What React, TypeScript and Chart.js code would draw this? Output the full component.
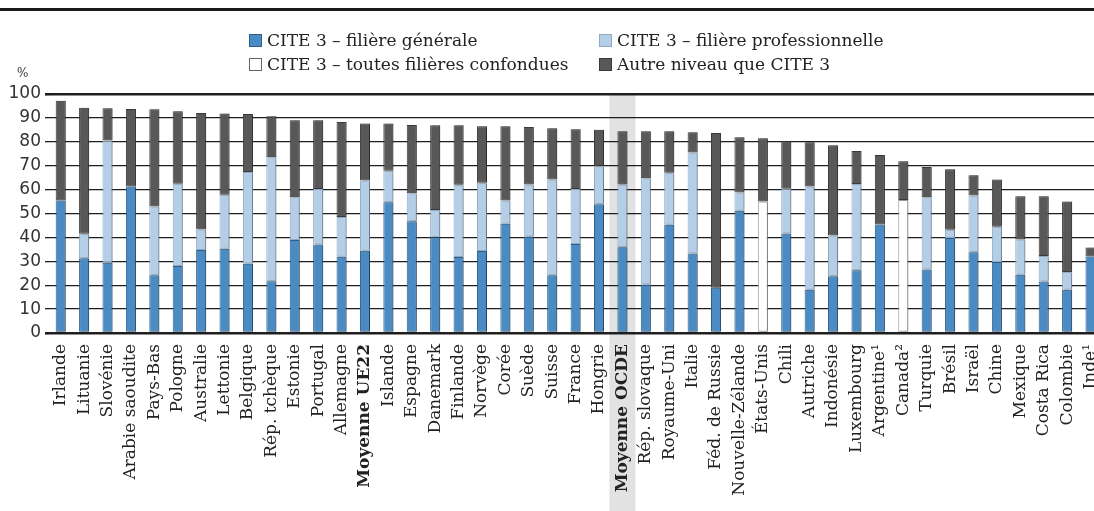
import React, { useEffect, useRef } from "react";
import { Chart, registerables } from "chart.js";

Chart.register(...registerables);

const categories = [
  "Irlande", "Lituanie", "Slovénie", "Arabie saoudite", "Pays-Bas", "Pologne", "Australie", "Lettonie",
  "Belgique", "Rép. tchèque", "Estonie", "Portugal", "Allemagne", "Moyenne UE22", "Islande", "Espagne",
  "Danemark", "Finlande", "Norvège", "Corée", "Suède", "Suisse", "France", "Hongrie", "Moyenne OCDE",
  "Rép. slovaque", "Royaume-Uni", "Italie", "Féd. de Russie", "Nouvelle-Zélande", "États-Unis", "Chili",
  "Autriche", "Indonésie", "Luxembourg", "Argentine¹", "Canada²", "Turquie", "Brésil", "Israël", "Chine",
  "Mexique", "Costa Rica", "Colombie", "Inde¹",
];

const generale = [
  55.4, 31.3, 29.4, 61.3, 24.2, 28.0, 34.7, 35.2, 29.0, 21.7, 38.9, 37.0, 31.9, 34.4, 54.7, 46.8,
  40.1, 31.8, 34.3, 45.7, 40.4, 24.2, 37.2, 53.9, 35.9, 20.3, 45.3, 33.3, 18.9, 51.1, null, 41.6,
  18.1, 23.7, 26.3, 45.4, null, 26.6, 39.8, 33.8, 29.7, 24.4, 21.6, 18.1, 32.0,
];

const professionnelle = [
  null, 10.2, 51.1, null, 28.7, 34.4, 8.6, 22.6, 38.4, 51.8, 17.9, 23.3, 16.6, 29.4, 13.2, 11.7,
  11.4, 30.2, 28.6, 9.7, 21.7, 40.0, 23.1, 15.9, 26.2, 44.5, 21.7, 42.2, null, 7.7, null, 18.8,
  43.2, 17.1, 36.0, null, null, 30.2, 3.4, 23.7, 14.8, 14.7, 10.6, 7.4, null,
];

const confondues = [
  null, null, null, null, null, null, null, null, null, null, null, null, null, null, null, null,
  null, null, null, null, null, null, null, null, null, null, null, null, null, null, 55.0, null,
  null, null, null, null, 55.7, null, null, null, null, null, null, null, null,
];

const autre = [
  41.8, 52.7, 13.5, 32.4, 40.7, 30.4, 48.8, 34.0, 24.2, 17.2, 32.2, 28.7, 39.8, 23.9, 19.8, 28.5,
  35.4, 24.9, 23.6, 31.1, 24.1, 21.5, 24.9, 15.2, 22.3, 19.6, 17.4, 8.5, 64.8, 23.1, 26.5, 19.8,
  18.5, 37.8, 13.8, 29.1, 16.2, 12.7, 25.3, 8.5, 19.7, 18.1, 25.0, 29.5, 3.8,
];

const yTicks = [0, 10, 20, 30, 40, 50, 60, 70, 80, 90, 100];

const seriesNames = [
  "CITE 3 – filière générale",
  "CITE 3 – filière professionnelle",
  "CITE 3 – toutes filières confondues",
  "Autre niveau que CITE 3",
];
const fillColors = ["#4a8bc4", "#b3cee6", "#ffffff", "#585858"];
const edgeColors = ["#2f5f88", "#8fa9c0", "#9a9a9a", "#3a3a3a"];

const highlight = "Moyenne OCDE";

const bandPlugin = {
  id: "band",
  beforeDraw(chart: any) {
    const { ctx, chartArea, scales } = chart;
    const idx = categories.indexOf(highlight);
    const x = scales.x.getPixelForValue(idx);
    const w = 26;
    ctx.save();
    ctx.fillStyle = "#e2e2e2";
    ctx.fillRect(x - w / 2, chartArea.top, w, chart.height - chartArea.top);
    ctx.restore();
  },
};

const shadowPlugin = {
  id: "shadow",
  beforeDatasetsDraw(chart: any) {
    const ctx = chart.ctx;
    ctx.save();
    ctx.shadowColor = "rgba(0,0,0,0.28)";
    ctx.shadowOffsetX = 2;
    ctx.shadowOffsetY = 0;
    ctx.shadowBlur = 0;
  },
  afterDatasetsDraw(chart: any) {
    chart.ctx.restore();
  },
};

export default function App() {
  const ref = useRef<HTMLCanvasElement | null>(null);

  useEffect(() => {
    if (!ref.current) return;
    const values = [generale, professionnelle, confondues, autre];
    const chart = new Chart(ref.current, {
      type: "bar",
      data: {
        labels: categories,
        datasets: values.map((d, i) => ({
          label: seriesNames[i],
          data: d,
          backgroundColor: fillColors[i],
          borderColor: edgeColors[i],
          borderWidth: 1,
          borderSkipped: false,
          categoryPercentage: 1,
          barPercentage: 0.43,
        })),
      },
      options: {
        responsive: false,
        animation: false,
        devicePixelRatio: 1,
        layout: { padding: { top: 94, left: 0, right: 8, bottom: 0 } },
        plugins: {
          legend: { display: false },
          tooltip: { enabled: false },
          title: { display: false },
        },
        scales: {
          x: {
            stacked: true,
            grid: { display: false },
            border: { display: false },
            afterFit(scale: any) {
              scale.height = 178;
            },
            ticks: {
              autoSkip: false,
              maxRotation: 90,
              minRotation: 90,
              padding: 3,
              color: "#222",
              font: (ctx: any) => {
                const lbl = categories[ctx.index] || "";
                return {
                  family: "'DejaVu Serif', serif",
                  size: 17,
                  weight: lbl.startsWith("Moyenne") ? "bold" : "normal",
                };
              },
            },
          },
          y: {
            stacked: true,
            min: 0,
            max: 100,
            afterFit(scale: any) {
              scale.width = 49;
            },
            afterBuildTicks(scale: any) {
              scale.ticks = yTicks.map((v) => ({ value: v }));
            },
            border: { display: false },
            grid: {
              color: "#1e1e1e",
              lineWidth: (ctx: any) =>
                ctx.tick && (ctx.tick.value === 0 || ctx.tick.value === 100) ? 2.6 : 1.3,
              drawTicks: true,
              tickLength: 4,
            },
            ticks: {
              color: "#333",
              padding: 4,
              font: { family: "'DejaVu Sans', sans-serif", size: 17 },
            },
          },
        },
      },
      plugins: [bandPlugin, shadowPlugin],
    });
    return () => chart.destroy();
  }, []);

  const legendItem = (i: number, left: number, top: number) => (
    <div
      key={i}
      style={{
        position: "absolute",
        left,
        top,
        display: "flex",
        alignItems: "center",
        fontFamily: "'DejaVu Serif', serif",
        fontSize: 17,
        lineHeight: "20px",
        color: "#222",
        whiteSpace: "nowrap",
      }}
    >
      <span
        style={{
          display: "inline-block",
          width: 11,
          height: 11,
          background: fillColors[i],
          border: `1px solid ${i === 2 ? "#666" : edgeColors[i]}`,
          marginRight: 5,
        }}
      />
      {seriesNames[i]}
    </div>
  );

  return (
    <div
      style={{
        position: "absolute",
        left: 0,
        top: 0,
        width: 1094,
        height: 511,
        overflow: "hidden",
        background: "#fff",
      }}
    >
      <canvas ref={ref} width={1114} height={511} style={{ display: "block", position: "absolute", left: 0, top: 0 }} />
      <div style={{ position: "absolute", left: 0, top: 8, width: 1094, height: 3, background: "#1a1a1a" }} />
      {legendItem(0, 249, 30)}
      {legendItem(1, 599, 30)}
      {legendItem(2, 249, 54)}
      {legendItem(3, 599, 54)}
      <div
        style={{
          position: "absolute",
          left: 17,
          top: 66,
          fontFamily: "'DejaVu Serif', serif",
          fontSize: 12,
          color: "#333",
        }}
      >
        %
      </div>
    </div>
  );
}
